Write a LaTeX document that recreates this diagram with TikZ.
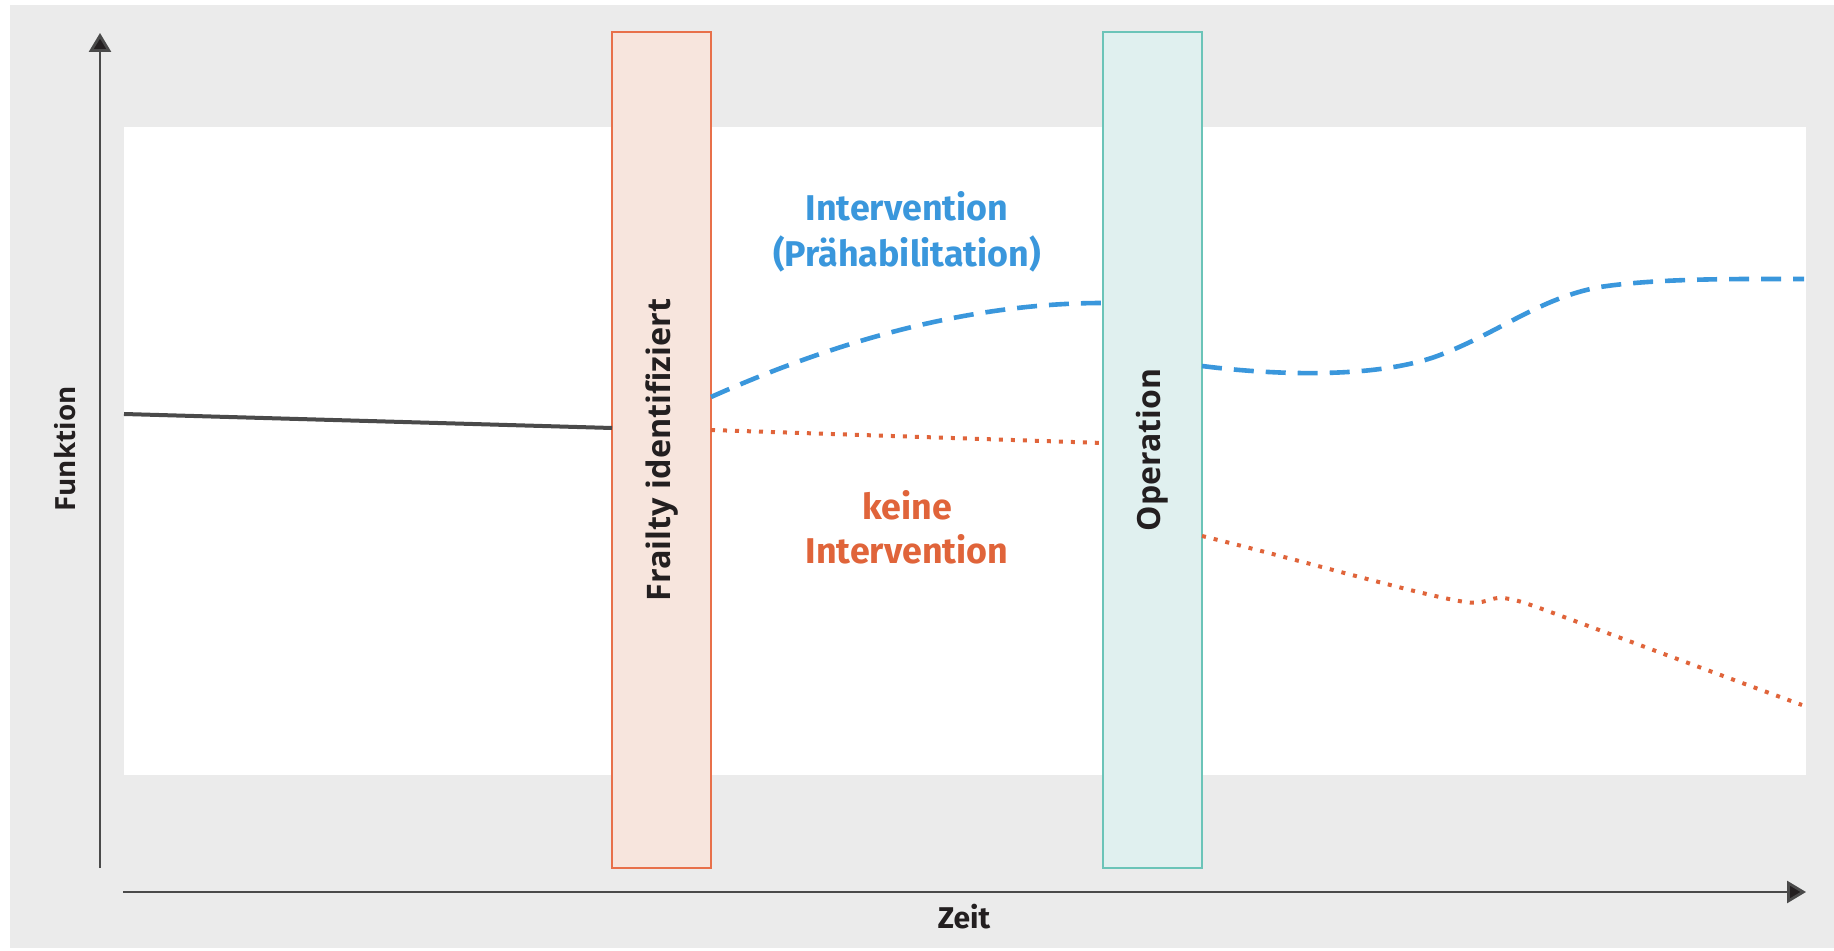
\documentclass[tikz,border=0pt]{standalone}
\usepackage{fontspec}
\setmainfont{Open Sans}
\newfontfamily\condfont{Fira Sans}
\usetikzlibrary{arrows.meta}

\definecolor{panelgray}{HTML}{EBEBEB}
\definecolor{frailtyfill}{HTML}{F7E5DD}
\definecolor{frailtyedge}{HTML}{E8704A}
\definecolor{opfill}{HTML}{E0F0EF}
\definecolor{opedge}{HTML}{6BC4B8}
\definecolor{prehab}{HTML}{3A97DC}
\definecolor{noint}{HTML}{E0643A}
\definecolor{axisgray}{HTML}{4A4A4A}
\definecolor{inkblack}{HTML}{231F20}

\tikzset{
  axisline/.style={draw=axisgray, line width=1.4pt,
    -{Triangle[length=9.5pt,width=11pt,fill=inkblack]}},
  phasebar/.style={rotate=90, line width=1pt, minimum width=418pt,
    minimum height=49.5pt, inner sep=0pt, text=inkblack},
  baseline curve/.style={draw=axisgray, line width=2pt},
  prehab curve/.style={draw=prehab, line width=2.3pt, dash pattern=on 10pt off 6pt},
  noint curve/.style={draw=noint, line width=2pt, dash pattern=on 2pt off 4pt},
  condlabel/.style={anchor=base, inner sep=0pt,
    font=\condfont\bfseries\fontsize{17.9}{20}\selectfont},
  axislabel/.style={inner sep=0pt, text=inkblack},
}

\begin{document}
\begin{tikzpicture}[x=0.5pt, y=-0.5pt]
\useasboundingbox (0,0) rectangle (1834,951);

% panel background and plotting area
\fill[panelgray] (10,5) rectangle (1834,948);
\fill[white] (124,127) rectangle (1806,775);

% phase bars
\node[phasebar, draw=frailtyedge, fill=frailtyfill,
  font=\bfseries\fontsize{16.2}{19}\selectfont] (frailty) at (661.5,450)
  {Frailty identifiziert};
\node[phasebar, draw=opedge, fill=opfill,
  font=\bfseries\fontsize{16}{19}\selectfont] (operation) at (1152.5,450)
  {Operation};

% axes
\coordinate (ybottom) at (100,868);
\coordinate (ytop) at (100,33);
\coordinate (xleft) at (123,892);
\coordinate (xright) at (1806,892);
\draw[axisline] (ybottom) -- (ytop);
\draw[axisline] (xleft) -- (xright);

\node[axislabel, rotate=90, font=\bfseries\fontsize{13.9}{16}\selectfont]
  (funktion) at (65,449) {Funktion};
\node[axislabel, anchor=base, font=\condfont\bfseries\fontsize{15}{17}\selectfont]
  (zeit) at (964,928) {Zeit};

% curve anchor points
\coordinate (start) at (124,414);
\coordinate (fin) at (612,428);
\coordinate (pA) at (711,397);
\coordinate (pB) at (1103,303);
\coordinate (pC) at (1202,366);
\coordinate (pD) at (1804,279);
\coordinate (nA) at (711,430);
\coordinate (nB) at (1103,443);
\coordinate (nC) at (1202,536);
\coordinate (nD) at (1802,705);

% course before frailty is identified
\draw[baseline curve] (start) -- (fin);

% with prehabilitation
\draw[prehab curve] (pA) .. controls (850,335) and (980,303) .. (pB);
\draw[prehab curve] (pC) .. controls (1280,376) and (1380,378) .. (1440,355)
  .. controls (1500,332) and (1540,298) .. (1600,287)
  .. controls (1660,278) and (1740,279) .. (pD);

% without intervention
\draw[noint curve] (nA) -- (nB);
\draw[noint curve] (nC) .. controls (1300,560) and (1420,595) .. (1465,602)
  .. controls (1485,605) and (1490,597) .. (1502,598)
  .. controls (1515,599) and (1525,603) .. (1545,610)
  .. controls (1640,645) and (1720,675) .. (nD);

% curve labels
\node[condlabel, text=prehab] (intA) at (907,221) {Intervention};
\node[condlabel, text=prehab] (intB) at (907,267) {(Prähabilitation)};
\node[condlabel, text=noint] (keineA) at (907,519) {keine};
\node[condlabel, text=noint] (keineB) at (907,563) {Intervention};
\end{tikzpicture}
\end{document}
